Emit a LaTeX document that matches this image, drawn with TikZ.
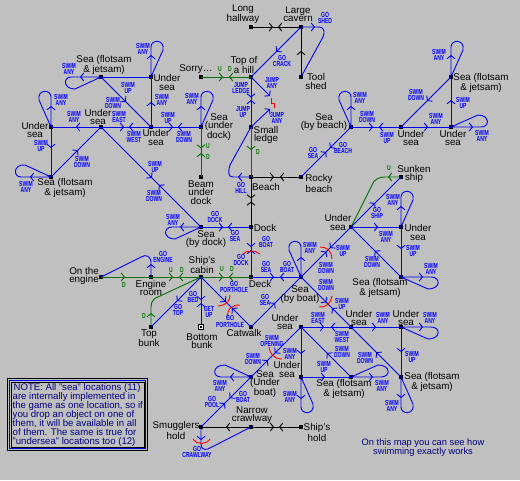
\documentclass[tikz,border=0pt]{standalone}
\usepackage{fontspec}
\setmainfont{Liberation Sans}
\newfontfamily\labf[FakeStretch=0.69]{Liberation Sans}
\usetikzlibrary{arrows.meta,decorations.markings}
\definecolor{bgc}{RGB}{192,192,192}
\definecolor{bluc}{RGB}{0,0,240}
\definecolor{grnc}{RGB}{0,112,0}
\definecolor{redc}{RGB}{255,0,0}
\definecolor{navc}{RGB}{0,0,128}
\tikzset{
  barb/.tip={Straight Barb[length=3.2pt,width=8pt,line width=.9pt]},
  fw/.style={postaction={decorate,decoration={markings,mark=at position #1 with {\arrow{barb}}}}},
  bw/.style={postaction={decorate,decoration={markings,mark=at position #1 with {\arrowreversed{barb}}}}},
  pt/.style={fill=black,inner sep=0pt,minimum size=3.6pt,draw=none,rectangle},
  nm/.style={inner sep=0pt,align=center,font=\fontsize{9.8}{8.2}\selectfont,text=black},
  lb/.style={inner sep=0pt,align=center,font=\labf\bfseries\fontsize{7.3}{6.1}\selectfont,text=blue},
  lg/.style={inner sep=0pt,align=center,font=\labf\bfseries\fontsize{7.3}{6.1}\selectfont,text=grnc},
  bl/.style={draw=bluc,line width=.9pt},
  gr/.style={draw=grnc,line width=.9pt},
  bk/.style={draw=black,line width=.9pt},
  rd/.style={draw=redc,line width=.9pt},
  nav/.style={inner sep=0pt,text=navc,align=left,font=\fontsize{9.6}{9}\selectfont},
}
\begin{document}
\begin{tikzpicture}[x=1pt,y=-1pt]
\useasboundingbox (0,0) rectangle (520,480);
\fill[bgc] (0,0) rectangle (520,480);
% location points
\node[pt] (S1) at (101,77) {};
\node[pt] (U1) at (151,77) {};
\node[pt] (U2) at (51,127) {};
\node[pt] (U3) at (101,127) {};
\node[pt] (U4) at (151,127) {};
\node[pt] (SD) at (201,127) {};
\node[pt] (S2) at (51,177) {};
\node[pt] (BU) at (201,177) {};
\node[pt] (SBD) at (201,227) {};
\node[pt] (DK) at (251,227) {};
\node[pt] (BE) at (251,177) {};
\node[pt] (SL) at (251,127) {};
\node[pt] (RB) at (301,177) {};
\node[pt] (HI) at (251,77) {};
\node[pt] (SO) at (201,77) {};
\node[pt] (LH) at (251,27) {};
\node[pt] (LC) at (301,27) {};
\node[pt] (TS) at (301,77) {};
\node[pt] (SBB) at (351,127) {};
\node[pt] (U5) at (401,127) {};
\node[pt] (U6) at (451,127) {};
\node[pt] (S3) at (451,77) {};
\node[pt] (SS) at (401,177) {};
\node[pt] (U7) at (351,227) {};
\node[pt] (U8) at (401,227) {};
\node[pt] (S4) at (401,277) {};
\node[pt] (SB) at (301,277) {};
\node[pt] (DE) at (251,277) {};
\node[pt] (CA) at (201,277) {};
\node[pt] (ER) at (151,277) {};
\node[pt] (OE) at (101,277) {};
\node[pt] (TB) at (151,327) {};
\node[pt,minimum size=6.5pt] (BB) at (201,327) {};
\node[fill=white,inner sep=0pt,minimum size=4.4pt] (BBi) at (BB.center) {};
\node[fill=black,inner sep=0pt,minimum size=2pt] (BBc) at (BB.center) {};
\node[pt] (CW) at (251,327) {};
\node[pt] (U9) at (301,327) {};
\node[pt] (U10) at (351,327) {};
\node[pt] (U11) at (401,327) {};
\node[pt] (S5) at (401,377) {};
\node[pt] (S6) at (351,377) {};
\node[pt] (U12) at (301,377) {};
\node[pt] (SU) at (251,377) {};
\node[pt] (SH) at (201,427) {};
\node[pt] (NC) at (251,427) {};
\node[pt] (SHH) at (301,427) {};
\coordinate (J1) at (270,96);
\coordinate (J2) at (270,109);
% black connectors
\draw[bk,fw=22pt,bw=27pt] (LH.center) -- (LC.center);
\draw[bk,fw=26pt] (TS.center) -- (LC.center);
\draw[bk,fw=25.5pt,bw=28.5pt] (DK.center) -- (BE.center);
\draw[bk,fw=23pt,bw=29pt] (BE.center) -- (RB.center);
\draw[bk,fw=25pt] (NC.center) -- (SH.center);
\draw[bk,fw=23pt,bw=28pt] (NC.center) -- (SHH.center);
% green connectors
\draw[gr,fw=22pt,bw=28pt] (SO.center) -- (HI.center);
\draw[gr,fw=21.5pt,bw=26pt] (SD.center) -- (BU.center);
\draw[gr,fw=23pt] (SL.center) -- (BE.center);
\draw[gr,fw=24pt] (OE.center) -- (ER.center);
\draw[gr,fw=22pt,bw=28pt] (ER.center) -- (CA.center);
\draw[gr,fw=22pt,bw=28pt] (CA.center) -- (DE.center);
\draw[gr,fw=14pt] (TB.center) -- (151,307) .. controls (151,300) and (155,298) .. (160,296) -- (CA.center);
\draw[gr,fw=13pt] (SS.center) -- (385,177) .. controls (378,177) and (374,180) .. (372,185) -- (U7.center);
% blue connectors
\draw[bl] (S1.center) -- (U1.center);
\draw[bl,fw=35pt] (S1.center) -- (U4.center);
\draw[bl,fw=25pt] (U4.center) -- (U1.center);
\draw[bl,fw=25pt] (U3.center) -- (U2.center);
\draw[bl,fw=23pt,bw=28pt] (U3.center) -- (U4.center);
\draw[bl,fw=21pt] (U2.center) -- (S2.center);
\draw[bl,fw=38pt] (S2.center) -- (U3.center);
\draw[bl,fw=72pt,bw=82pt] (U3.center) -- (SBD.center);
\draw[bl,fw=22pt,bw=27pt] (U4.center) -- (SD.center);
\draw[bl,fw=22pt,bw=27pt] (SBD.center) -- (DK.center);
\draw[bl,fw=27pt,bw=29.5pt] (SL.center) -- (HI.center);
\draw[bl,fw=35.5pt,bw=41pt] (RB.center) -- (SBB.center);
\draw[bl,fw=35pt] (LC.center) -- (HI.center);
\draw[bl,-{barb}] (HI.center) -- (J1);
\draw[bl,-{barb}] (SL.center) -- (J2);
\draw[bl,fw=22pt,bw=28pt] (SBB.center) -- (U5.center);
\draw[bl,fw=27pt] (U5.center) -- (U6.center);
\draw[bl,fw=27pt] (U6.center) -- (S3.center);
\draw[bl,fw=34pt] (S3.center) -- (U5.center);
\draw[bl,fw=34pt] (U7.center) -- (SS.center);
\draw[bl,fw=27pt] (U7.center) -- (U8.center);
\draw[bl,fw=22pt] (U8.center) -- (S4.center);
\draw[bl,fw=37pt] (S4.center) -- (U7.center);
\draw[bl,fw=36pt,bw=41pt] (SB.center) -- (U7.center);
\draw[bl,fw=23pt,bw=29pt] (DE.center) -- (SB.center);
\draw[bl,fw=27pt,bw=30pt] (DE.center) -- (DK.center);
\draw[bl,fw=34pt] (CA.center) -- (TB.center);
\draw[bl,fw=23pt,bw=26pt] (CA.center) -- (BB);
\draw[bl,fw=35pt,bw=44pt] (CA.center) -- (CW.center);
\draw[bl,fw=34pt] (CW.center) -- (SB.center);
\draw[bl,fw=36pt,bw=44pt] (SB.center) -- (U10.center);
\draw[bl,fw=23pt,bw=30pt] (U9.center) -- (U10.center);
\draw[bl,fw=25pt] (U10.center) -- (U11.center);
\draw[bl,fw=25pt] (U11.center) -- (S5.center);
\draw[bl,fw=35pt] (S5.center) -- (U10.center);
\draw[bl,fw=27pt] (U9.center) -- (U12.center);
\draw[bl,fw=34pt] (S6.center) -- (U9.center);
\draw[bl,fw=24pt] (U12.center) -- (S6.center);
\draw[bl,fw=37pt,bw=47pt] (U9.center) -- (SU.center);
\draw[bl,fw=30pt,bw=37pt] (SU.center) -- (SH.center);
% curved blue connectors
\draw[bl,fw=13pt] (BE.center) -- (233,177) .. controls (228,177) and (228,172) .. (230,165) -- (SL.center);
\draw[bl,fw=14pt] (LC.center) -- (318,27) .. controls (325,27) and (325,32) .. (323,37) -- (TS.center);
\draw[bl,fw=13pt] (ER.center) -- (151,263) .. controls (151,256) and (146,254) .. (141,257) -- (OE.center);
\draw[bl,fw=13pt] (SH.center) -- (201,444) .. controls (201,449) and (204,450) .. (208,449) -- (NC.center);
% loops
\draw[bl,fw=21pt] (S1.center) -- (71,77) .. controls (63,77) and (63,89) .. (75,89) -- (S1.center);
\draw[bl,fw=22pt] (U1.center) -- (151,47) .. controls (151,39) and (165,39) .. (163,50) -- (U1.center);
\draw[bl,fw=21pt] (U2.center) -- (51,97) .. controls (51,89) and (37,89) .. (39,100) -- (U2.center);
\draw[bl,fw=21pt] (S2.center) -- (21,177) .. controls (13,177) and (13,164) .. (25,165) -- (S2.center);
\draw[bl,fw=21pt] (SBD.center) -- (172,227) .. controls (163,227) and (163,239) .. (175,239) -- (SBD.center);
\draw[bl,fw=21pt] (SD.center) -- (201,97) .. controls (201,89) and (215,89) .. (213,100) -- (SD.center);
\draw[bl,fw=21pt] (SBB.center) -- (351,97) .. controls (351,89) and (337,89) .. (339,100) -- (SBB.center);
\draw[bl,fw=22pt] (U6.center) -- (481,127) .. controls (490,127) and (490,115) .. (478,115) -- (U6.center);
\draw[bl,fw=22pt] (S3.center) -- (451,47) .. controls (451,39) and (465,39) .. (463,50) -- (S3.center);
\draw[bl,fw=21pt] (U8.center) -- (401,197) .. controls (401,189) and (415,189) .. (413,200) -- (U8.center);
\draw[bl,fw=22pt] (S4.center) -- (431,277) .. controls (441,277) and (441,289) .. (428,289) -- (S4.center);
\draw[bl,fw=20pt] (SB.center) -- (301,247) .. controls (301,239) and (287,239) .. (289,250) -- (SB.center);
\draw[bl,fw=22pt] (U11.center) -- (431,327) .. controls (441,327) and (441,339) .. (428,339) -- (U11.center);
\draw[bl,fw=21pt] (S5.center) -- (401,407) .. controls (401,415) and (415,415) .. (413,404) -- (S5.center);
\draw[bl,fw=22pt] (U12.center) -- (301,407) .. controls (301,415) and (315,415) .. (313,404) -- (U12.center);
\draw[bl,fw=22pt] (S6.center) -- (381,377) .. controls (391,377) and (391,365) .. (378,365) -- (S6.center);
\draw[bl,fw=21pt] (SU.center) -- (221,377) .. controls (212,377) and (212,365) .. (225,365) -- (SU.center);
% red marks
\draw[rd] (243,254) .. controls (246,250) and (256,250) .. (260,254);
\draw[rd] (320,247) .. controls (327,246.5) and (332,252) .. (332,259);
\draw[rd] (230,295) .. controls (230,300) and (228,305) .. (218,306);
\draw[rd] (240,305) .. controls (232,305) and (228,308) .. (227,318);
\draw[rd] (319,307) .. controls (326,308) and (331,303) .. (332,296);
\draw[rd] (269,347) .. controls (270,354) and (274,359) .. (282,359);
\draw[rd] (193,439) .. controls (197,445) and (206,445) .. (210,439);
\draw[rd] (271.5,98) -- (271.5,103.5) -- (274,103.5) -- (274,108);
% note box
\draw[draw=black,line width=.9pt] (7.5,378.5) rectangle (147.5,450.5);
\draw[draw=bluc,line width=1.8pt] (9.5,380.5) rectangle (145.5,448.5);
\draw[draw=black,line width=.9pt] (11,382) rectangle (144,447);
\node[nav,anchor=north west] (note) at (12.5,383) {\hspace*{1pt}NOTE: All "sea" locations (11)\\are internally implemented in\\the game as one location, so if\\you drop an object on one of\\them, it will be available in all\\of them. The same is true for\\"undersea" locations too (12)};
\node[nav,align=center,font=\fontsize{9.3}{9}\selectfont] (howto) at (423,447.5) {On this map you can see how\\swimming exactly works};
% location names
\node[nm] (t1) at (104,65) {Sea (flotsam\\\& jetsam)};
\node[nm] (t2) at (167,82.5) {Under\\sea};
\node[nm] (t3) at (35,130) {Under\\sea};
\node[nm] (t4) at (98,117) {Under\\sea};
\node[nm] (t5) at (156,137.5) {Under\\sea};
\node[nm] (t6) at (65,188) {Sea (flotsam\\\& jetsam)};
\node[nm] (t7) at (196,69) {Sorry\dots};
\node[nm] (t8) at (244,65) {Top of\\a hill};
\node[nm] (t9) at (243,14.5) {Long\\hallway};
\node[nm] (t10) at (298,14.5) {Large\\cavern};
\node[nm] (t11) at (316,81.5) {Tool\\shed};
\node[nm] (t12) at (219,127) {Sea\\(under\\dock)};
\node[nm] (t13) at (266,135) {Small\\ledge};
\node[nm] (t14) at (324,122) {Sea\\(by beach)};
\node[nm] (t15) at (201,192.5) {Beam\\under\\dock};
\node[nm] (t16) at (266,187) {Beach};
\node[nm] (t17) at (319,183.5) {Rocky\\beach};
\node[nm] (t18) at (265,228) {Dock};
\node[nm] (t19) at (206,239) {Sea\\(by dock)};
\node[nm] (t20) at (202,265) {Ship's\\cabin};
\node[nm] (t21) at (260,284) {Deck};
\node[nm] (t22) at (338,222.5) {Under\\sea};
\node[nm] (t23) at (300,294.5) {Sea\\(by boat)};
\node[nm] (t24) at (414,174) {Sunken\\ship};
\node[nm] (t25) at (418,232.5) {Under\\sea};
\node[nm] (t26) at (380,288) {Sea (flotsam\\\& jetsam)};
\node[nm] (t27) at (84,276) {On the\\engine};
\node[nm] (t28) at (151,288) {Engine\\room};
\node[nm] (t29) at (149,338) {Top\\bunk};
\node[nm] (t30) at (202,341) {Bottom\\bunk};
\node[nm] (t31) at (244,333) {Catwalk};
\node[nm] (t32) at (285,322) {Under\\sea};
\node[nm] (t33) at (359,318) {Under\\sea};
\node[nm] (t34) at (406,318) {Under\\sea};
\node[nm] (t35) at (287,369.5) {Under\\sea};
\node[nm] (t36) at (432,382) {Sea (flotsam\\\& jetsam)};
\node[nm] (t37) at (344,389) {Sea (flotsam\\\& jetsam)};
\node[nm] (t38) at (265,384) {Sea\\(Under\\boat)};
\node[nm] (t39) at (176,430.5) {Smugglers\\hold};
\node[nm] (t40) at (252,415) {Narrow\\crawlway};
\node[nm] (t41) at (317,432.5) {Ship's\\hold};
\node[nm] (t42) at (481,83) {Sea (flotsam\\\& jetsam)};
\node[nm] (t43) at (411,138) {Under\\sea};
\node[nm] (t44) at (453,138) {Under\\sea};
% connector labels
\node[lb] (a1) at (69,69) {SWIM\\ANY};
\node[lb] (a2) at (143,49) {SWIM\\ANY};
\node[lb] (a3) at (128,88) {SWIM\\UP};
\node[lb] (a4) at (113,103) {SWIM\\DOWN};
\node[lb] (a5) at (162,100) {SWIM\\ANY};
\node[lb] (a6) at (61,100) {SWIM\\ANY};
\node[lb] (a7) at (168,118) {SWIM\\UP};
\node[lb] (a8) at (74,117) {SWIM\\ANY};
\node[lb] (a9) at (119,117) {SWIM\\EAST};
\node[lb] (a10) at (134,137) {SWIM\\WEST};
\node[lb] (a11) at (41,146) {SWIM\\UP};
\node[lb] (a12) at (82,162) {SWIM\\DOWN};
\node[lb] (a13) at (26,187) {SWIM\\ANY};
\node[lb] (a14) at (155,167) {SWIM\\UP};
\node[lb] (a15) at (154,196) {SWIM\\DOWN};
\node[lb] (a16) at (173,220) {SWIM\\ANY};
\node[lb] (a17) at (192,99) {SWIM\\ANY};
\node[lb] (a18) at (184,137) {SWIM\\DOWN};
\node[lb] (a19) at (241,88) {JUMP\\LEDGE};
\node[lb] (a20) at (243,112) {JUMP\\UP};
\node[lb] (a21) at (272,83) {JUMP\\ANY};
\node[lb] (a22) at (277,118) {JUMP\\ANY};
\node[lb] (a23) at (282,61) {GO\\CRACK};
\node[lb] (a24) at (325,18) {GO\\SHED};
\node[lb] (a25) at (313,153) {GO\\SEA};
\node[lb] (a26) at (343,148) {GO\\BEACH};
\node[lb] (a27) at (241,188) {GO\\HILL};
\node[lb] (a28) at (215,217) {GO\\DOCK};
\node[lb] (a29) at (235,236) {GO\\SEA};
\node[lb] (a30) at (266,242) {GO\\BOAT};
\node[lb] (a31) at (241,260) {GO\\DOCK};
\node[lb] (a32) at (266,267) {GO\\SEA};
\node[lb] (a33) at (287,267) {GO\\BOAT};
\node[lb] (a34) at (310,248) {SWIM\\ANY};
\node[lb] (a35) at (343,251) {SWIM\\UP};
\node[lb] (a36) at (326,268) {SWIM\\DOWN};
\node[lb] (a37) at (326,285) {SWIM\\DOWN};
\node[lb] (a38) at (342,304) {SWIM\\UP};
\node[lb] (a39) at (377,213) {GO\\SHIP};
\node[lb] (a40) at (393,200) {SWIM\\ANY};
\node[lb] (a41) at (386,237) {SWIM\\ANY};
\node[lb] (a42) at (413,251) {SWIM\\UP};
\node[lb] (a43) at (372,262) {SWIM\\DOWN};
\node[lb] (a44) at (431,269) {SWIM\\ANY};
\node[lb] (a45) at (360,98) {SWIM\\ANY};
\node[lb] (a46) at (367,117) {SWIM\\DOWN};
\node[lb] (a47) at (387,138) {SWIM\\UP};
\node[lb] (a48) at (436,119) {SWIM\\ANY};
\node[lb] (a49) at (482,136) {SWIM\\ANY};
\node[lb] (a50) at (416,95) {SWIM\\DOWN};
\node[lb] (a51) at (463,103) {SWIM\\UP};
\node[lb] (a52) at (439,55) {SWIM\\ANY};
\node[lb] (a53) at (163,257) {GO\\ENGINE};
\node[lb] (a54) at (178,310) {GO\\TOP};
\node[lb] (a55) at (193,297) {GO\\BED};
\node[lb] (a56) at (209,312) {GET\\UP};
\node[lb] (a57) at (234,287) {GO\\PORTHOLE};
\node[lb] (a58) at (230,321.5) {GO\\PORTHOLE};
\node[lb] (a59) at (265,300) {GO\\SEA};
\node[lb] (a60) at (318,318) {SWIM\\EAST};
\node[lb] (a61) at (342,337) {SWIM\\WEST};
\node[lb] (a62) at (272,341) {SWIM\\OPENING};
\node[lb] (a63) at (253,359) {SWIM\\DOWN};
\node[lb] (a64) at (290,354) {SWIM\\ANY};
\node[lb] (a65) at (342,352) {SWIM\\DOWN};
\node[lb] (a66) at (324,367) {SWIM\\UP};
\node[lb] (a67) at (365,358) {SWIM\\DOWN};
\node[lb] (a68) at (383,318) {SWIM\\ANY};
\node[lb] (a69) at (430,318) {SWIM\\ANY};
\node[lb] (a70) at (412,357) {SWIM\\UP};
\node[lb] (a71) at (392,406) {SWIM\\ANY};
\node[lb] (a72) at (382,386) {SWIM\\ANY};
\node[lb] (a73) at (290,397) {SWIM\\ANY};
\node[lb] (a74) at (220,386) {SWIM\\ANY};
\node[lb] (a75) at (212,402) {GO\\POOL};
\node[lb] (a76) at (243,397) {GO\\BOAT};
\node[lb] (a77) at (197,452) {GO\\CRAWLWAY};
\node[lg] (g1) at (389,168) {U};
\node[lg] (g2) at (220,69) {U};
\node[lg] (g3) at (230,69) {D};
\node[lg] (g4) at (208,146) {U};
\node[lg] (g5) at (208,157) {D};
\node[lg] (g6) at (258,152) {D};
\node[lg] (g7) at (124,285) {D};
\node[lg] (g8) at (171,270) {U};
\node[lg] (g9) at (182,270) {D};
\node[lg] (g10) at (222,269) {U};
\node[lg] (g11) at (232,269) {D};
\node[lg] (g12) at (144,316) {D};
\end{tikzpicture}
\end{document}
